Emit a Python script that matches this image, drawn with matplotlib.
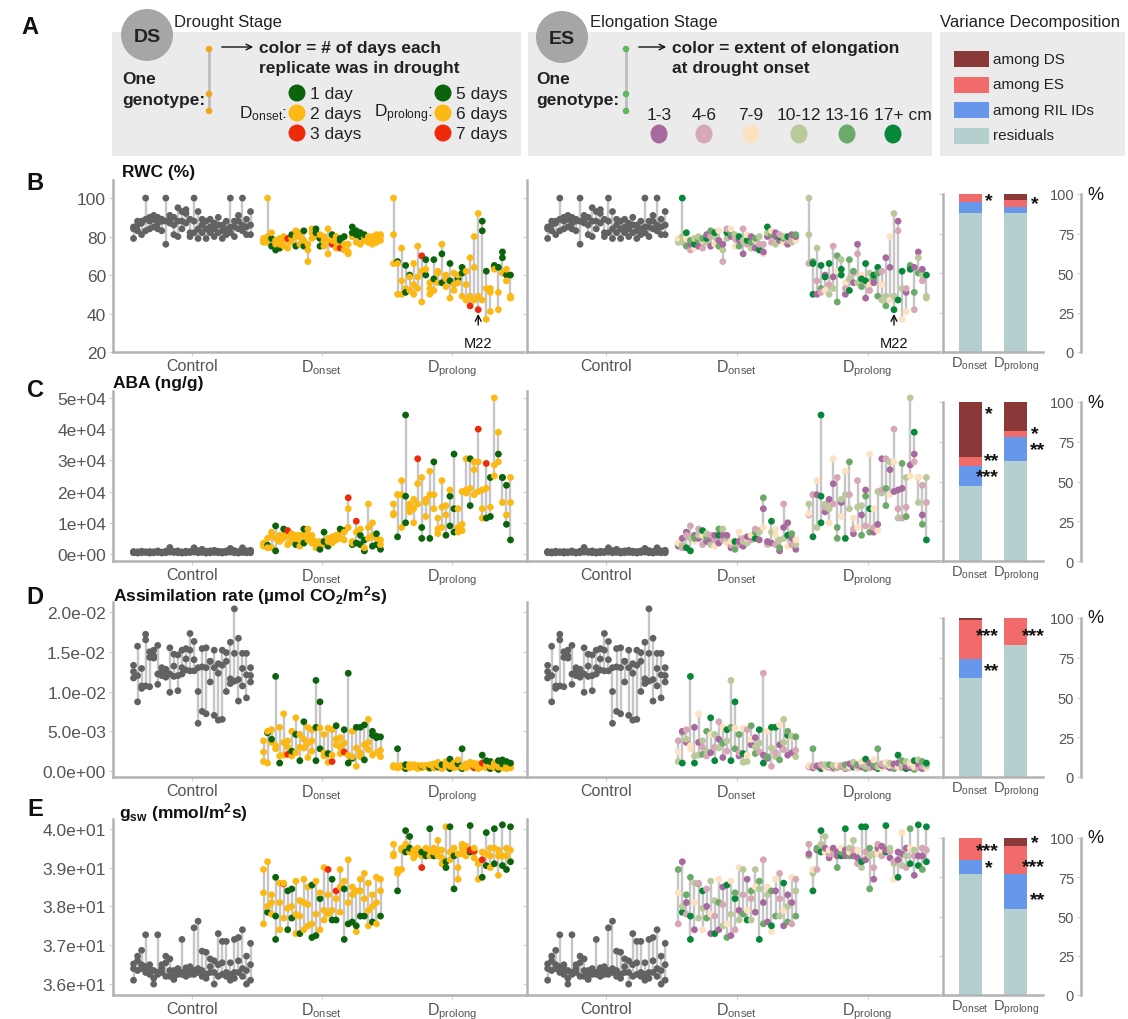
import numpy as np
import matplotlib
matplotlib.use("Agg")
import matplotlib.pyplot as plt
from matplotlib.patches import Circle, Rectangle, Ellipse

plt.rcParams['font.family'] = ['Liberation Sans', 'DejaVu Sans']
plt.rcParams['mathtext.fontset'] = 'custom'
plt.rcParams['mathtext.rm'] = 'Liberation Sans'
plt.rcParams['mathtext.it'] = 'Liberation Sans:italic'
plt.rcParams['mathtext.bf'] = 'Liberation Sans:bold'

# ---------------- data ----------------
groups = ["Control", r"D$_{\mathrm{onset}}$", r"D$_{\mathrm{prolong}}$"]
bar_groups = [r"D$_{\mathrm{onset}}$", r"D$_{\mathrm{prolong}}$"]

# RWC (%)  -- 30 genotypes x 3 replicates per group
rwc_control = [79,85,84, 83,86,88, 81,87,88, 83,89,100, 84,88,90, 85,89,91, 84,87,90, 83,89,88,
               76,88,100, 87,89,91, 81,86,90, 80,88,95, 84,88,93, 87,92,94, 80,82,89, 82,88,100,
               79,84,93, 82,86,89, 79,84,88, 82,85,89, 80,84,87, 82,86,90, 79,83,86, 81,84,88,
               82,85,100, 80,85,88, 84,88,91, 83,86,100, 81,85,89, 81,86,93]
rwc_onset = [77,78,79, 80,100,77, 75,79,82, 73,76,78, 74,76,79, 75,78,80, 74,78,79, 77,79,81,
             75,80,83, 76,80,82, 75,78,83, 67,73,76, 79,82,84, 80,82,84, 75,79,81, 75,78,80,
             71,78,84, 76,78,81, 74,77,80, 74,78,79, 73,76,80, 71,72,76, 80,82,85, 77,81,83,
             76,80,82, 78,80,81, 77,79,80, 76,78,80, 77,79,81, 78,80,81]
rwc_onset_ds = "yyy yyy ggy gyy gyy yyy yyr yyg gyy yyy gyg yyy yyy ygg ggy yyy yyy ryg yyy rgg yyg yyy ygg ygg ygg yyg yyy yyy yyy yyy"
rwc_onset_es = "443 464 536 215 364 154 235 461 125 346 513 241 462 153 324 516 142 263 451 135 624 312 146 253 411 162 354 126 421 315"
rwc_prolong = [100,81,66, 67,66,50, 74,57,50, 65,53,51, 60,59,52, 66,55,50, 75,59,53, 70,62,46,
               68,60,63, 56,50,53, 68,58,52, 61,62,56, 76,71,56, 60,58,54, 66,57,48, 61,55,52,
               58,56,60, 64,61,49, 62,55,47, 69,49,44, 80,64,47, 92,49,42, 88,83,47, 62,53,37,
               41,51,53, 65,64,63, 64,51,42, 72,69,61, 60,57,63, 60,49,48]
rwc_prolong_ds = "yyy gyy yyy gyg gyy yyy yyy ryy ggy yyy ggy yyy ygg yyy ggy yyy gyy ggy yyy yyr yyy yyr ggy gyy yyy ggy gyy ggy gyy gyy"
rwc_prolong_es = "442 566 421 652 163 624 214 535 466 312 546 251 124 365 661 432 516 655 234 145 313 446 126 643 312 556 152 145 421 644"
m22_index = 21

# ABA (ng/g)
aba_control = [400,600,800, 300,500,700, 400,650,900, 500,700,600, 300,450,800, 400,600,700,
               500,800,1000, 300,500,600, 400,700,900, 600,900,2100, 500,700,800, 400,600,1000,
               300,500,700, 400,700,900, 500,600,800, 600,900,2000, 400,700,1100, 500,800,1500,
               300,600,900, 400,700,1000, 500,800,1200, 400,600,900, 300,500,800, 500,700,1000,
               600,900,1800, 400,700,1100, 300,500,800, 500,900,2000, 400,600,1000, 400,800,1200]
aba_onset = [2500,3000,3500, 2800,5000,2000, 7000,6000,2000, 9000,1000,5000, 4000,6000,5000,
             5000,6000,8000, 3000,6000,7500, 4000,5500,6500, 3000,5000,6000, 2500,4500,6000,
             3500,6000,8000, 4500,6000,8000, 3500,5000,6000, 2000,3000,4000, 1500,3500,4000,
             3000,4000,7000, 2500,4000,5000, 3500,5000,5500, 4500,5500,6000, 5000,7000,8000,
             4500,7500,7000, 8500,14500,18000, 3000,3500,4000, 3500,7000,10500, 3000,6000,8000,
             1000,2000,4500, 5000,8500,16000, 2500,6000,10000, 3000,5000,6500, 1500,3000,4500]
aba_onset_ds = "yyy gyy yyy ggy yyy yyg yyr yyy gyy yyy gyg yyy yyy yyy gyy ygg gyy yyy yyy yyg ygy yyr gyy gyr ggy gyg yyy gyy gyg gyy"
aba_onset_es = "153 412 126 264 315 142 236 154 412 321 165 214 341 123 546 213 142 431 213 652 124 315 421 146 233 154 412 361 215 143"
aba_prolong = [12500,13000,16000, 5500,19000,19000, 8500,19000,23500, 10000,18500,44500,
               13500,15000,16000, 10000,14500,17500, 16000,22500,30500, 5000,8500,24500,
               12000,16500,17500, 5000,19000,26500, 14500,19000,29500, 6500,8000,11500,
               8500,15000,23500, 6000,12500,15500, 9000,18500,20500, 7000,14500,32000,
               7000,8500,14500, 7500,9500,20000, 19500,20500,30500, 15500,21000,30500,
               19000,27000,29500, 20000,29500,40000, 11500,14500,20500, 11500,21000,29000,
               12000,15000,24500, 25000,28500,50000, 29500,32000,39000, 16500,24500,24500,
               9500,12500,22000, 4500,16500,24500]
aba_prolong_ds = "yyy gyy yyy ggg yyy yyy yyr ggy yyy gyy yyg yyy yyy gyy ggy ggg yyy yyy yyy gyg yyy yyr yyy gyr gyg yyy ygy ygg gyg gyy"
aba_prolong_es = "234 642 413 666 124 341 213 552 314 643 425 123 342 514 251 563 123 314 421 552 314 132 421 215 524 314 216 423 512 624"

# Assimilation rate, in units of 1e-3 umol CO2/m2s
assim_control = [11.7,12.5,13.3, 8.7,12.0,15.7, 10.4,10.7,12.9, 10.7,16.5,17.2, 10.6,14.3,15.0,
                 14.2,14.5,15.2, 10.9,12.2,15.8, 12.0,12.5,13.0, 11.8,12.6,12.8, 9.9,12.2,15.5,
                 11.9,13.2,14.7, 10.1,12.0,14.6, 12.2,13.0,15.2, 12.7,14.1,15.4, 12.6,15.2,17.3,
                 12.6,14.0,16.3, 6.0,10.0,13.0, 7.5,13.1,15.4, 7.2,13.0,15.5, 11.2,13.8,13.8,
                 7.0,13.0,15.2, 6.4,12.3,13.5, 6.5,13.3,15.2, 10.0,13.8,14.9, 11.0,11.6,16.2,
                 11.3,14.8,20.4, 8.8,11.5,16.7, 10.7,12.9,14.8, 9.2,12.1,14.8, 11.2,12.0,13.0]
assim_onset = [1.2,2.4,3.8, 1.0,4.8,5.0, 3.6,5.2,4.0, 2.8,3.2,11.9, 1.0,1.9,5.5, 2.0,3.6,7.2,
               2.1,3.0,3.8, 1.9,2.5,5.0, 2.3,4.6,6.7, 1.3,3.0,4.6, 2.9,4.0,6.2, 1.7,3.5,5.5,
               2.5,3.8,5.2, 1.3,5.5,11.4, 2.8,5.4,8.7, 1.9,2.3,4.6, 1.1,2.2,5.4, 1.2,2.0,5.2,
               3.3,4.0,5.7, 2.2,3.0,4.2, 2.4,3.5,5.2, 1.0,2.0,12.3, 1.6,1.8,5.0, 0.6,2.9,5.5,
               1.8,2.3,5.5, 1.4,3.3,5.8, 2.7,3.6,6.5, 2.0,4.5,5.0, 2.3,4.2,4.4, 1.8,2.6,4.3]
assim_onset_ds = "yyy ygy yyg yyg gyy yyy ryy ygy ygy gyy yyg yyy yyy ggg gyg yyy ygy ryy yyg yyy ryg gyg gyy yyg yyg gyg yyy ygg ygg yyg"
assim_onset_es = "432 641 124 336 641 413 524 245 136 624 412 153 246 654 536 125 463 432 135 541 246 612 153 246 426 513 244 165 134 425"
assim_prolong = [0.5,0.6,0.7, 0.4,0.6,2.8, 0.5,0.7,0.6, 0.3,0.6,0.8, 0.4,0.7,0.8, 0.5,0.6,0.8,
                 0.3,0.5,0.7, 0.4,0.6,0.7, 0.5,0.6,0.7, 0.3,0.4,0.8, 0.4,0.6,0.9, 0.5,0.7,1.1,
                 0.3,0.6,0.8, 0.5,0.8,1.2, 0.3,0.6,1.5, 0.4,0.7,1.0, 0.5,0.9,1.4, 0.3,0.5,2.8,
                 0.4,0.7,0.9, 0.6,0.8,1.1, 0.4,0.7,1.0, 0.3,0.6,0.9, 0.5,1.0,2.0, 0.4,0.8,1.3,
                 0.3,0.6,1.2, 0.4,0.7,1.0, 0.2,0.5,1.3, 0.4,0.9,1.4, 0.3,0.6,1.2, 0.4,0.7,1.0]
assim_prolong_ds = "yyy yyg yyy gyg yyy yyy yyy ygy yyy ygy yyy gyy yyg yyy gyg yyy ygy gyg yyy yyy ryy yyy yrg yyg gyg yyy gyg ygg yyg yyg"
assim_prolong_es = "243 125 341 612 324 135 214 453 312 145 231 614 325 123 546 241 153 645 312 243 134 521 316 245 614 123 536 214 125 346"

# g_sw (mmol/m2s)
gsw_control = [36.10,36.40,36.52, 36.35,36.60,36.72, 36.40,36.50,36.87, 36.30,36.45,37.27,
               36.25,36.40,36.50, 36.00,36.15,36.35, 36.25,36.30,37.27, 36.30,36.40,36.50,
               36.20,36.55,36.72, 36.20,36.35,36.65, 36.12,36.20,36.35, 36.25,36.30,36.40,
               36.25,36.30,37.15, 36.20,36.35,36.42, 36.25,36.40,36.45, 36.25,36.35,37.45,
               36.30,36.40,37.62, 36.20,36.35,36.85, 36.15,36.25,36.82, 36.30,36.45,36.65,
               36.00,36.30,36.60, 36.20,36.50,37.30, 36.25,36.55,37.10, 36.20,36.30,37.10,
               36.10,36.25,36.55, 36.15,36.30,37.15, 36.30,36.60,37.20, 36.20,36.40,37.40,
               36.00,36.35,36.72, 36.10,36.50,37.05]
gsw_onset = [37.55,38.35,38.95, 37.85,38.00,39.15, 37.80,38.10,38.30, 37.15,37.75,38.75,
             37.40,38.10,38.60, 37.70,38.58,38.60, 37.40,37.95,38.40, 37.70,38.00,38.45,
             37.30,37.80,38.65, 37.30,37.75,38.15, 37.40,38.10,38.70, 37.50,38.05,38.50,
             37.20,37.55,38.55, 37.25,37.80,38.65, 37.40,38.20,38.35, 37.65,37.90,39.00,
             37.80,38.30,38.95, 37.65,37.90,38.70, 37.65,38.40,38.20, 37.85,38.50,38.95,
             37.15,38.45,38.65, 37.55,38.10,39.20, 37.60,38.30,38.50, 37.35,37.50,38.40,
             37.75,38.40,38.70, 37.75,38.20,38.85, 37.50,37.90,38.60, 37.60,38.00,38.30,
             37.55,38.10,38.75, 37.75,38.40,38.70]
gsw_onset_ds = "yyy gyy yyy ggg yyy yry gyg gyg yyy gyy yyy yyy gyg gyy ygy yyy yyr gyg gry yyy ggy gyy gyy ygy gyy gyy yyy gyy yyy gyy"
gsw_onset_es = "235 641 215 665 134 452 346 512 134 624 153 421 536 143 265 413 524 631 452 134 645 512 143 365 513 422 136 541 213 542"
gsw_prolong = [39.30,39.35,39.60, 38.40,38.85,38.95, 38.95,39.45,39.50, 39.40,39.60,39.95,
               39.40,39.50,39.80, 39.25,39.35,39.45, 39.35,39.45,39.50, 39.00,39.30,39.40,
               39.30,39.40,39.50, 39.30,39.45,40.00, 39.30,39.40,39.50, 39.30,39.45,39.70,
               39.10,39.25,39.45, 39.00,39.15,40.05, 39.20,39.40,40.05, 38.45,39.30,39.50,
               38.70,39.00,39.35, 39.35,39.50,39.60, 39.30,39.45,39.55, 39.40,39.45,40.08,
               39.25,39.42,39.50, 38.70,39.10,39.15, 38.75,39.20,39.40, 39.05,39.35,39.90,
               39.00,39.30,39.50, 39.10,39.50,40.00, 38.80,39.30,39.45, 39.05,39.30,40.10,
               38.95,39.30,39.50, 39.15,39.45,40.05]
gsw_prolong_ds = "yyy gyy yyy gyg ygg yyy yyy ryg ggy yyg gyy yyy yyy ggy yyg ggy yyy yyy yyy grg yry yyy gry gyg yyy gyg yyy gyg gyy gyg"
gsw_prolong_es = "412 643 215 646 314 123 241 511 653 116 534 124 213 466 126 545 124 312 231 616 124 342 611 413 241 635 124 616 512 626"

# Variance decomposition (% of variance) for [D_onset, D_prolong]
vd_residuals = {"B": [88, 88], "C": [47, 63], "D": [62.5, 83], "E": [77, 55]}
vd_ril = {"B": [7, 4], "C": [13, 15], "D": [11.5, 0], "E": [9, 22]}
vd_es = {"B": [4.7, 4.5], "C": [5.5, 4], "D": [24.5, 17], "E": [14, 18]}
vd_ds = {"B": [0.3, 3.5], "C": [34.5, 18], "D": [1.5, 0], "E": [0, 5]}
vd_stars = {"B": [(0, 96, "*"), (1, 94, "*")],
            "C": [(0, 93, "*"), (0, 63, "**"), (0, 53, "***"), (1, 80, "*"), (1, 70, "**")],
            "D": [(0, 89, "***"), (0, 67, "**"), (1, 89, "***")],
            "E": [(0, 92, "***"), (0, 81, "*"), (1, 97, "*"), (1, 82, "***"), (1, 61, "**")]}

# ---------------- style ----------------
W, H = 1128, 1020
DS_COL = {'g': '#0b640b', 'y': '#fdb913', 'r': '#ee2a0a'}
ES_COL = {'1': '#a8699e', '2': '#d8a7b5', '3': '#fde2c2', '4': '#bac99a', '5': '#6caa6a', '6': '#07873a'}
ES_ORDER = ['1', '2', '3', '4', '5', '6']
CTRL_COL = '#626262'
LINE_COL = '#c6c6c6'
SPINE_COL = '#b3b3b3'
TXT_COL = '#555555'
VD_COLS = ['#b5cfcf', '#6797ea', '#f26b6b', '#8a3838']

fig = plt.figure(figsize=(W / 100, H / 100), dpi=100)
fig.patch.set_facecolor('white')


def add_ax(x0, y0, x1, y1, **kw):
    return fig.add_axes([x0 / W, 1 - y1 / H, (x1 - x0) / W, (y1 - y0) / H], **kw)


ov = add_ax(0, 0, W, H)
ov.set_xlim(0, W)
ov.set_ylim(H, 0)
ov.axis('off')


def draw_group(ax, center, vals, codes, cmap):
    arr = np.array(vals, dtype=float).reshape(-1, 3)
    n = arr.shape[0]
    xs = center + np.linspace(-0.45, 0.45, n)
    ax.vlines(xs, arr.min(axis=1), arr.max(axis=1), color=LINE_COL, lw=1.7, zorder=1)
    if codes is None:
        cols = [CTRL_COL] * arr.size
    else:
        cols = [cmap[c] for c in "".join(codes.split())]
    ax.scatter(np.repeat(xs, 3), arr.ravel(), s=24, c=cols, edgecolors='none', zorder=2)
    return xs


def style_main(ax, ylim, yticks, ylabels, show_labels):
    ax.set_xlim(0.392, 3.577)
    ax.set_ylim(*ylim)
    ax.patch.set_alpha(0)
    for sp in ['top', 'right']:
        ax.spines[sp].set_visible(False)
    for sp in ['left', 'bottom']:
        ax.spines[sp].set_color(SPINE_COL)
        ax.spines[sp].set_linewidth(1.8)
    ax.set_xticks([1, 2, 3])
    ax.set_xticklabels(groups, fontsize=11.5, color=TXT_COL)
    ax.tick_params(axis='x', length=3, color='#d0d0d0', pad=1)
    ax.set_yticks(yticks)
    if show_labels:
        ax.set_yticklabels(ylabels, fontsize=12.5, color=TXT_COL)
    else:
        ax.set_yticklabels([])
    ax.tick_params(axis='y', length=3, color='#d0d0d0', pad=2)


rows = [
    dict(key="B", title="RWC (%)", top=181, bot=353, btop=195, ylim=(20, 109.4),
         yticks=[20, 40, 60, 80, 100], ylabels=["20", "40", "60", "80", "100"],
         data=(rwc_control, rwc_onset, rwc_onset_ds, rwc_onset_es, rwc_prolong, rwc_prolong_ds, rwc_prolong_es),
         scale=1.0, tx=122, ty=172, ly=183),
    dict(key="C", title="ABA (ng/g)", top=392, bot=562, btop=403, ylim=(-2240, 52200),
         yticks=[0, 10000, 20000, 30000, 40000, 50000],
         ylabels=["0e+00", "1e+04", "2e+04", "3e+04", "4e+04", "5e+04"],
         data=(aba_control, aba_onset, aba_onset_ds, aba_onset_es, aba_prolong, aba_prolong_ds, aba_prolong_es),
         scale=1.0, tx=113, ty=384, ly=391),
    dict(key="D", title=r"Assimilation rate (µmol CO$_\mathbf{2}$/m$^\mathbf{2}$s)", top=603, bot=778, btop=619,
         ylim=(-0.00075, 0.02126), yticks=[0, 0.005, 0.01, 0.015, 0.02],
         ylabels=["0.0e+00", "5.0e-03", "1.0e-02", "1.5e-02", "2.0e-02"],
         data=(assim_control, assim_onset, assim_onset_ds, assim_onset_es, assim_prolong, assim_prolong_ds, assim_prolong_es),
         scale=1e-3, tx=113, ty=596, ly=598),
    dict(key="E", title=r"g$_\mathbf{sw}$ (mmol/m$^\mathbf{2}$s)", top=820, bot=996, btop=839,
         ylim=(35.72, 40.25), yticks=[36, 37, 38, 39, 40],
         ylabels=["3.6e+01", "3.7e+01", "3.8e+01", "3.9e+01", "4.0e+01"],
         data=(gsw_control, gsw_onset, gsw_onset_ds, gsw_onset_es, gsw_prolong, gsw_prolong_ds, gsw_prolong_es),
         scale=1.0, tx=119, ty=813, ly=810),
]

for r in rows:
    ctrl, on, on_ds, on_es, pr, pr_ds, pr_es = r["data"]
    sc = r["scale"]
    ctrl = [v * sc for v in ctrl]
    on = [v * sc for v in on]
    pr = [v * sc for v in pr]
    axL = add_ax(113, r["top"], 527, r["bot"])
    axM = add_ax(527, r["top"], 943, r["bot"])
    style_main(axL, r["ylim"], r["yticks"], r["ylabels"], True)
    style_main(axM, r["ylim"], r["yticks"], r["ylabels"], False)
    for ax, mode in [(axL, "ds"), (axM, "es")]:
        draw_group(ax, 1, ctrl, None, None)
        draw_group(ax, 2, on, on_ds if mode == "ds" else on_es, DS_COL if mode == "ds" else ES_COL)
        xs = draw_group(ax, 3, pr, pr_ds if mode == "ds" else pr_es, DS_COL if mode == "ds" else ES_COL)
        if r["key"] == "B":
            xm = xs[m22_index]
            ax.annotate("M22", xy=(xm, 39.8), xytext=(xm, 24.6), ha='center', va='center',
                        fontsize=10.5, color='#111111',
                        arrowprops=dict(arrowstyle='->', color='#111111', lw=1.0, shrinkA=6, shrinkB=0))
    # title and panel letter
    ov.text(r["tx"], r["ty"], r["title"], fontsize=12.5, fontweight='bold', color='#111111',
            ha='left', va='center')
    ov.text(35, r["ly"], r["key"], fontsize=17, fontweight='bold', color='#111111',
            ha='center', va='center')

    # variance decomposition bars
    axB = add_ax(943, r["btop"], 1043, r["bot"])
    axB.patch.set_alpha(0)
    k = r["key"]
    pos = np.arange(1, 3)
    bottom = np.zeros(2)
    for vals, col in zip([vd_residuals[k], vd_ril[k], vd_es[k], vd_ds[k]], VD_COLS):
        axB.bar(pos, vals, bottom=bottom, width=0.5, color=col, edgecolor='none')
        bottom = bottom + np.array(vals)
    offs = {"*": 0.41, "**": 0.47, "***": 0.38}
    for bi, yv, lab in vd_stars[k]:
        axB.text(pos[bi] + offs[lab], yv, lab, ha='center', va='center', fontsize=14,
                 fontweight='bold', color='#111111')
    axB.set_xlim(0.41, 2.59)
    axB.set_ylim(0, 100)
    for sp in ['top', 'right']:
        axB.spines[sp].set_visible(False)
    for sp in ['left', 'bottom']:
        axB.spines[sp].set_color(SPINE_COL)
        axB.spines[sp].set_linewidth(1.8)
    axB.set_xticks(pos)
    axB.set_xticklabels(bar_groups, fontsize=10.5, color=TXT_COL)
    axB.get_xticklabels()[0].set_x(0.97)
    axB.tick_params(axis='x', length=0, pad=2)
    axB.set_yticks([0, 25, 50, 75, 100])
    axB.set_yticklabels([])
    axB.tick_params(axis='y', length=3, color='#d0d0d0')

    axP = add_ax(1081, r["btop"], 1082, r["bot"])
    axP.patch.set_alpha(0)
    axP.set_ylim(0, 100)
    axP.set_xticks([])
    for sp in ['top', 'right', 'bottom']:
        axP.spines[sp].set_visible(False)
    axP.spines['left'].set_color(SPINE_COL)
    axP.spines['left'].set_linewidth(1.8)
    axP.set_yticks([0, 25, 50, 75, 100])
    axP.set_yticklabels(["0", "25", "50", "75", "100"], fontsize=10.5, color=TXT_COL)
    axP.tick_params(axis='y', length=3, color='#d0d0d0', pad=2)
    axP.text(6, 100, "%", transform=axP.transData,
             fontsize=13, color='#111111', ha='left', va='center', clip_on=False)

# ---------------- header (panel A legend) ----------------
BOX = '#ebebeb'
ov.text(30, 27, "A", fontsize=17, fontweight='bold', color='#111111', ha='center', va='center')
for (x0, x1) in [(112, 521), (528, 932), (940, 1125)]:
    ov.add_patch(Rectangle((x0, 33), x1 - x0, 124, facecolor=BOX, edgecolor='none', zorder=0))

# DS box
ov.add_patch(Circle((147, 36), 26, facecolor='#a6a6a6', edgecolor='none', zorder=2))
ov.text(147, 37, "DS", fontsize=14, fontweight='bold', color='#222222', ha='center', va='center', zorder=3)
ov.text(174, 23, "Drought Stage", fontsize=12, color='#222222', ha='left', va='center')
ov.text(122, 79, "One", fontsize=12.5, fontweight='bold', color='#222222', ha='left', va='center')
ov.text(122, 100, "genotype:", fontsize=12.5, fontweight='bold', color='#222222', ha='left', va='center')
ov.plot([209, 209], [50, 112], color='#bdbdbd', lw=2, zorder=2)
ov.scatter([209, 209, 209], [50, 95, 112], s=22, color='#f2a516', zorder=3, edgecolors='none')
ov.annotate("", xy=(256, 48), xytext=(219, 48),
            arrowprops=dict(arrowstyle='->', color='#111111', lw=1.0))
ov.text(259, 48, "color = # of days each", fontsize=12.5, fontweight='bold', color='#222222', ha='left', va='center')
ov.text(259, 68, "replicate was in drought", fontsize=12.5, fontweight='bold', color='#222222', ha='left', va='center')
ds_days_onset = ["1 day", "2 days", "3 days"]
ds_days_prolong = ["5 days", "6 days", "7 days"]
for i, c in enumerate(['g', 'y', 'r']):
    yy = 94 + 20 * i
    ov.add_patch(Circle((297, yy), 8.5, facecolor=DS_COL[c], edgecolor='none', zorder=3))
    ov.text(310, yy, ds_days_onset[i], fontsize=12.5, color='#222222', ha='left', va='center')
    ov.add_patch(Circle((443, yy), 8.5, facecolor=DS_COL[c], edgecolor='none', zorder=3))
    ov.text(456, yy, ds_days_prolong[i], fontsize=12.5, color='#222222', ha='left', va='center')
ov.text(287, 114, r"D$_{\mathrm{onset}}$:", fontsize=12.5, color='#222222', ha='right', va='center')
ov.text(433, 114, r"D$_{\mathrm{prolong}}$:", fontsize=12.5, color='#222222', ha='right', va='center')

# ES box
ov.add_patch(Circle((562, 38), 26, facecolor='#a6a6a6', edgecolor='none', zorder=2))
ov.text(562, 39, "ES", fontsize=14, fontweight='bold', color='#222222', ha='center', va='center', zorder=3)
ov.text(590, 23, "Elongation Stage", fontsize=12, color='#222222', ha='left', va='center')
ov.text(536, 79, "One", fontsize=12.5, fontweight='bold', color='#222222', ha='left', va='center')
ov.text(536, 100, "genotype:", fontsize=12.5, fontweight='bold', color='#222222', ha='left', va='center')
ov.plot([626, 626], [50, 112], color='#bdbdbd', lw=2, zorder=2)
ov.scatter([626, 626, 626], [50, 95, 112], s=22, color='#5cb85c', zorder=3, edgecolors='none')
ov.annotate("", xy=(669, 48), xytext=(636, 48),
            arrowprops=dict(arrowstyle='->', color='#111111', lw=1.0))
ov.text(672, 48, "color = extent of elongation", fontsize=12.5, fontweight='bold', color='#222222', ha='left', va='center')
ov.text(672, 68, "at drought onset", fontsize=12.5, fontweight='bold', color='#222222', ha='left', va='center')
es_labels = ["1-3", "4-6", "7-9", "10-12", "13-16", "17+ cm"]
es_x = [659, 704, 751, 799, 847, 893]
for lab, xx, c in zip(es_labels, es_x, ES_ORDER):
    ov.add_patch(Ellipse((xx, 135), 17, 19, facecolor=ES_COL[c], edgecolor='none', zorder=3))
    ov.text(xx + (10 if lab.endswith("cm") else 0), 115, lab, fontsize=12.5, color='#222222', ha='center', va='center')

# Variance decomposition legend
ov.text(940, 23, "Variance Decomposition", fontsize=12, color='#222222', ha='left', va='center')
vd_labels = ["among DS", "among ES", "among RIL IDs", "residuals"]
for i, (lab, col) in enumerate(zip(vd_labels, VD_COLS[::-1])):
    yy = 60 + 25.5 * i
    ov.add_patch(Rectangle((954, yy - 8), 35, 16, facecolor=col, edgecolor='none', zorder=2))
    ov.text(993, yy, lab, fontsize=11, color='#222222', ha='left', va='center')

fig.savefig("out.png", dpi=100, facecolor='white')
